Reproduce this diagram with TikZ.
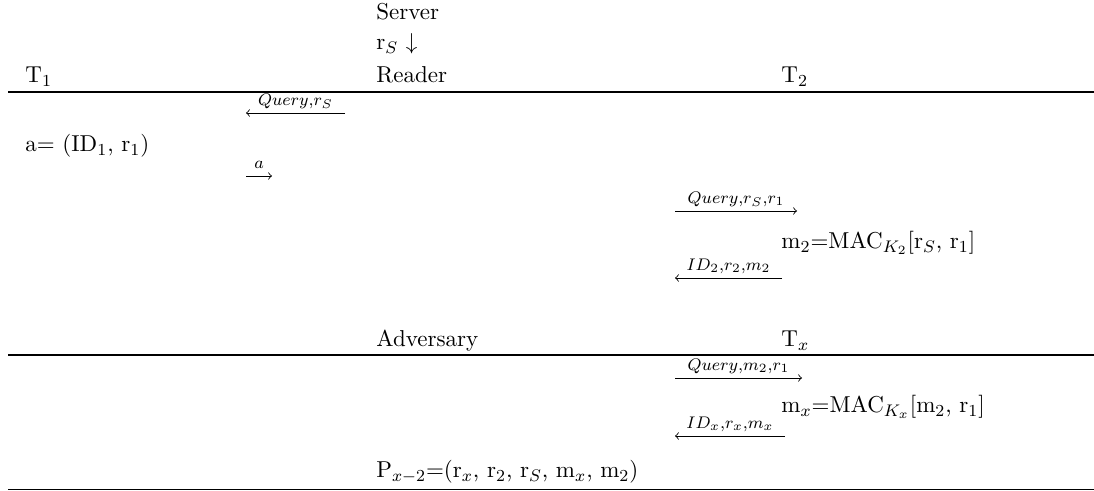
\documentclass[tikz,border=0pt]{standalone}
\begin{document}
\begin{tikzpicture}[x=0.476pt,y=-0.476pt,
	every node/.style={font=\fontsize{10.95}{13.6}\selectfont},
	txt/.style={anchor=base west,inner sep=0pt},
	msg/.style={->},
	tag/.style={anchor=base,inner sep=0pt,yshift=3.6pt},
	rule/.style={line width=0.6pt}]
	\useasboundingbox (0,0) rectangle (1094,491);
	%HEAD
	\node[txt] (server) at (376,20) {Server};
	\node[txt] (rs) at (376,50) {r$_S$ $\downarrow$};
	\node[txt] (t1) at (25,83) {T$_1$};
	\node[txt] (reader) at (376,83) {Reader};
	\node[txt] (t2) at (781,83) {T$_2$};
	\coordinate (l1a) at (8,92); \coordinate (l1b) at (1094,92);
	\draw[rule] (l1a) -- (l1b);
	%READER - T1
	\coordinate (q1a) at (345,113); \coordinate (q1b) at (246,113);
	\draw[msg] (q1a) -- (q1b) node[midway,tag] (q1) {$\scriptstyle Query,r_S$};
	\node[txt] (ida) at (25,152) {a= (ID$_1$, r$_1$)};
	\coordinate (a1a) at (246,176); \coordinate (a1b) at (272,176);
	\draw[msg] (a1a) -- (a1b) node[midway,tag] (a1) {$\scriptstyle a$};
	%READER - T2
	\coordinate (q2a) at (675,211); \coordinate (q2b) at (797,211);
	\draw[msg] (q2a) -- (q2b) node[midway,tag] (q2) {$\scriptstyle Query,r_S,r_1$};
	\node[txt] (mac2) at (781,249) {m$_2$=MAC$_{K_2}$[r$_S$, r$_1$]};
	\coordinate (r2a) at (782,278); \coordinate (r2b) at (675,278);
	\draw[msg] (r2a) -- (r2b) node[midway,tag] (r2) {$\scriptstyle ID_2,r_2,m_2$};
	%ADVERSARY - Tx
	\node[txt] (adv) at (376,347) {Adversary};
	\node[txt] (tx) at (781,347) {T$_x$};
	\coordinate (l2a) at (8,355); \coordinate (l2b) at (1094,355);
	\draw[rule] (l2a) -- (l2b);
	\coordinate (q3a) at (675,378); \coordinate (q3b) at (802,378);
	\draw[msg] (q3a) -- (q3b) node[midway,tag] (q3) {$\scriptstyle Query,m_2,r_1$};
	\node[txt] (macx) at (781,413) {m$_x$=MAC$_{K_x}$[m$_2$, r$_1$]};
	\coordinate (rxa) at (785,436); \coordinate (rxb) at (675,436);
	\draw[msg] (rxa) -- (rxb) node[midway,tag] (rx) {$\scriptstyle ID_x,r_x,m_x$};
	\node[txt] (pair) at (376,478) {P$_{x-2}$=(r$_x$, r$_2$, r$_S$, m$_x$, m$_2$)};
	\coordinate (l3a) at (8,489.5); \coordinate (l3b) at (1094,489.5);
	\draw[rule] (l3a) -- (l3b);
\end{tikzpicture}
\end{document}
